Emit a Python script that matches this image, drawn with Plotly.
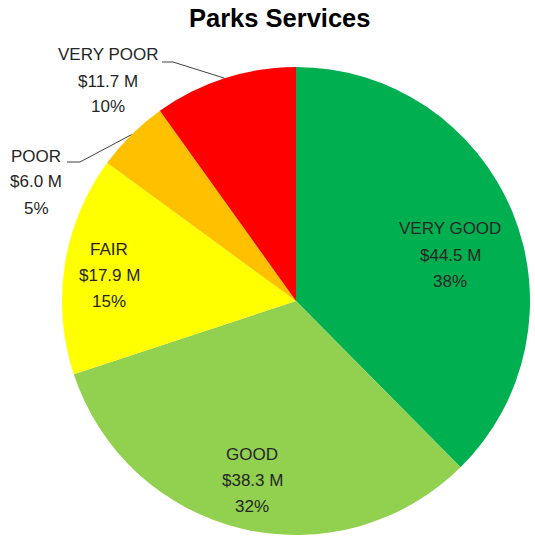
import math
import plotly.graph_objects as go

categories = ["VERY GOOD", "GOOD", "FAIR", "POOR", "VERY POOR"]
values = [44.5, 38.3, 17.9, 6.0, 11.7]
colors = ["#00B050", "#92D050", "#FFFF00", "#FFC000", "#FF0000"]

W, H = 535, 544
CX, CY, R = 296, 301, 234  # pie centre / radius in screen pixels

# label centre (middle line) in screen pixels
label_pos = {
    "VERY GOOD": (450, 255),
    "GOOD": (252, 480),
    "FAIR": (109, 275),
    "POOR": (36, 182),
    "VERY POOR": (108, 81),
}
# leader lines for outside labels: (start x, y) of the horizontal stub, elbow x
leaders = {
    "POOR": (67, 162, 80),
    "VERY POOR": (162, 62, 173),
}

def px(x):
    return x / W

def py(y):
    return 1 - y / H

fig = go.Figure()
fig.add_trace(go.Pie(
    labels=categories,
    values=values,
    sort=False,
    direction="clockwise",
    rotation=0,
    marker=dict(colors=colors, line=dict(width=0)),
    textinfo="none",
    hoverinfo="skip",
    showlegend=False,
    domain=dict(x=[px(CX - R), px(CX + R)], y=[py(CY + R), py(CY - R)]),
))

total = sum(values)
font = dict(family="Liberation Sans, Arial, sans-serif", size=17, color="#262626")
annotations = []
shapes = []
cum = 0.0
for cat, v in zip(categories, values):
    mid = (cum + v / 2) / total * 2 * math.pi
    cum += v
    lx, ly = label_pos[cat]
    lines = [cat, f"${v:.1f} M", f"{round(v / total * 100):.0f}%"]
    for i, t in enumerate(lines):
        annotations.append(dict(
            x=px(lx), y=py(ly + (i - 1) * 26), xref="paper", yref="paper",
            text=t, showarrow=False, font=font, xanchor="center", yanchor="middle",
        ))
    if cat in leaders:
        sx, sy, ex = leaders[cat]
        tx = CX + R * math.sin(mid)
        ty = CY - R * math.cos(mid)
        path = f"M {px(sx)} {py(sy)} L {px(ex)} {py(sy)} L {px(tx)} {py(ty)}"
        shapes.append(dict(type="path", path=path, xref="paper", yref="paper",
                           line=dict(color="#404040", width=1)))

annotations.append(dict(
    x=px(280), y=py(18), xref="paper", yref="paper",
    text="<b>Parks Services</b>", showarrow=False,
    font=dict(family="Liberation Sans, Arial, sans-serif", size=25.5, color="#000000"),
    xanchor="center", yanchor="middle",
))

fig.update_layout(
    width=W, height=H,
    margin=dict(l=0, r=0, t=0, b=0),
    paper_bgcolor="white",
    plot_bgcolor="white",
    annotations=annotations,
    shapes=shapes,
)

fig.write_html(
    "out.html",
    config={"displayModeBar": False, "staticPlot": True},
    post_script=["document.body.style.margin='0';document.body.style.overflow='hidden';"],
)
